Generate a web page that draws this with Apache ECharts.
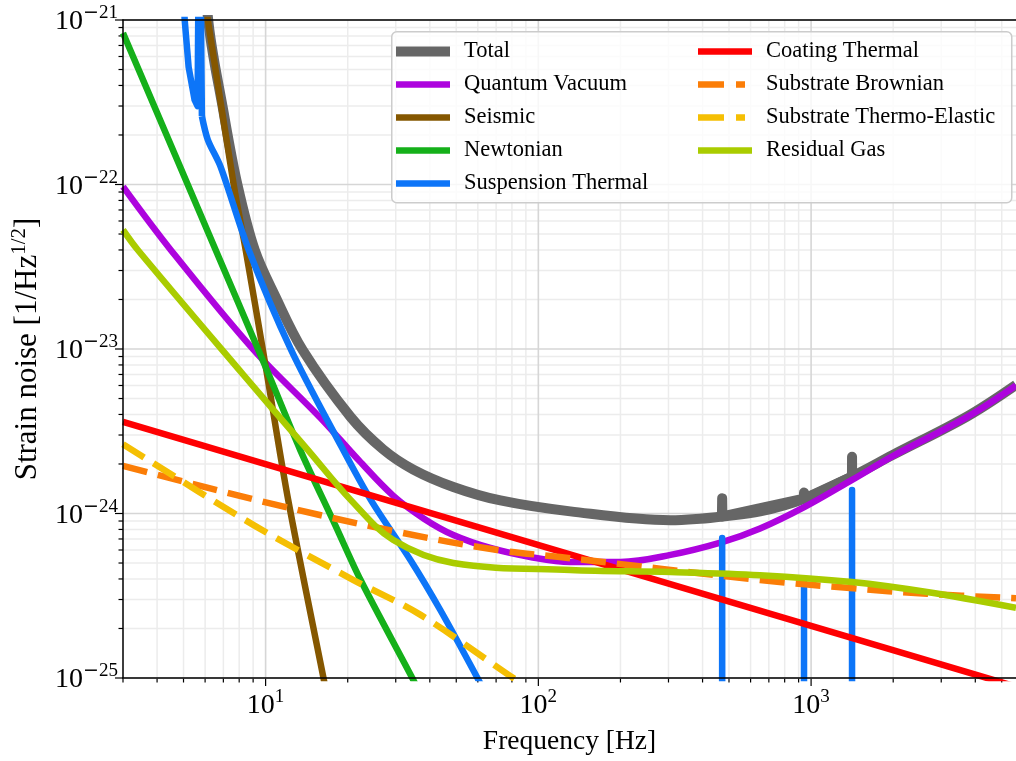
<!DOCTYPE html>
<html><head><meta charset="utf-8">
<script src="https://cdn.jsdelivr.net/npm/echarts@6/dist/echarts.min.js"></script>
<style>html,body{margin:0;padding:0;background:#fff}#c{width:1016px;height:761px}</style>
</head><body><div id="c"></div>
<script>
// ---- axis ranges and ticks ----
const X_MIN = 3, X_MAX = 5640;
const Y_MIN = 1e-25, Y_MAX = 1e-21;
const UNIT = 1e-25; // values are plotted in units of 1e-25 (log-axis precision)
const xMajorTicks = [10, 100, 1000];
const xMinorTicks = [3,4,5,6,7,8,9,20,30,40,50,60,70,80,90,200,300,400,500,600,700,800,900,2000,3000,4000,5000];
const yMajorTicks = [1e-25, 1e-24, 1e-23, 1e-22, 1e-21];
const yMinorTicks = [2e-25,3e-25,4e-25,5e-25,6e-25,7e-25,8e-25,9e-25,
  2e-24,3e-24,4e-24,5e-24,6e-24,7e-24,8e-24,9e-24,
  2e-23,3e-23,4e-23,5e-23,6e-23,7e-23,8e-23,9e-23,
  2e-22,3e-22,4e-22,5e-22,6e-22,7e-22,8e-22,9e-22];

// ---- series (frequency [Hz], strain noise [1/sqrt(Hz)]) ----
const totalF = [5.5, 6.14, 7.0, 7.89, 9.12, 10.88, 13.66, 20.5, 27, 34.8, 48.8, 72.6, 131, 305, 392, 472, 650, 942, 1413, 1995, 3726, 5640];
const totalH = [2e-20, 1.05e-21, 2.8e-22, 9.9e-23, 4.0e-23, 2.07e-23, 9.87e-24, 3.86e-24, 2.45e-24, 1.85e-24, 1.45e-24, 1.2e-24, 1.03e-24, 9.1e-25, 9.3e-25, 9.6e-25, 1.03e-24, 1.23e-24, 1.68e-24, 2.27e-24, 3.88e-24, 6.05e-24];
const totalPeakF = [471, 472, 473, 941, 942, 943, 1412, 1413, 1414];
const totalPeakH = [9.6e-25, 1.24e-24, 9.6e-25, 1.23e-24, 1.34e-24, 1.23e-24, 1.68e-24, 2.21e-24, 1.68e-24];

const quantumF = [3, 4.49, 9.04, 15.9, 22, 29.4, 38.2, 48.8, 66.7, 93.4, 131, 200, 305, 472, 650, 951, 1413, 2000, 3726, 5640];
const quantumH = [9.7e-23, 4.0e-23, 9.87e-24, 3.8e-24, 2.1e-24, 1.28e-24, 9.27e-25, 7.4e-25, 6.17e-25, 5.44e-25, 5.07e-25, 5.07e-25, 5.6e-25, 6.7e-25, 8.1e-25, 1.1e-24, 1.6e-24, 2.24e-24, 3.85e-24, 6.0e-24];

const seismicF = [5.0, 5.5, 6.14, 7.64, 8.45, 10, 12.1, 16.3, 18];
const seismicH = [8.6e-21, 3.2e-21, 1e-21, 9.93e-23, 4.0e-23, 7.89e-24, 1.21e-24, 1e-25, 4.4e-26];

const newtonF = [3, 6.56, 10, 13.4, 18, 22.3, 34.5, 40];
const newtonH = [8.34e-22, 4.0e-23, 7.78e-24, 2.43e-24, 8.5e-25, 3.94e-25, 1e-25, 6.2e-26];

const suspLowF = [4.89, 5.05, 5.22, 5.49, 5.63, 5.72, 5.84];
const suspLowH = [3.1e-21, 1e-21, 5.18e-22, 3.27e-22, 3.0e-22, 1e-20, 2.6e-22];
const suspF = [5.84, 6.14, 6.84, 8.67, 12.4, 18.4, 24.3, 34.0, 43.7, 59.8, 80, 200];
const suspH = [2.6e-22, 1.87e-22, 1.28e-22, 4.0e-23, 9.87e-24, 2.8e-24, 1.21e-24, 5.2e-25, 2.59e-25, 1e-25, 4e-26, 1e-27];
const suspPeakF = [471.6, 472, 472.4, 941.6, 942, 942.4, 1412.6, 1413, 1413.4];
const suspPeakH = [1e-27, 7.1e-25, 1e-27, 1e-27, 3.79e-25, 1e-27, 1e-27, 1.39e-24, 1e-27];

const coatingF = [3, 6000];
const coatingH = [3.6e-24, 8.6e-26];

const subBrownF = [3, 10.2, 30.5, 70.8, 120, 650, 1390, 2660, 5640];
const subBrownH = [1.95e-24, 1.16e-24, 7.73e-25, 6.0e-25, 5.44e-25, 3.94e-25, 3.52e-25, 3.25e-25, 3.05e-25];

const subTEF = [3, 9.04, 21.0, 37.0, 80.9, 100];
const subTEH = [2.64e-24, 8.5e-25, 3.94e-25, 2.42e-25, 1e-25, 8e-26];

const gasF = [3, 3.4, 8.3, 14.3, 20.5, 29.4, 48.8, 131, 305, 650, 1413, 2660, 5640];
const gasH = [5.3e-23, 4.0e-23, 6.95e-24, 2.43e-24, 1.21e-24, 6.9e-25, 5.0e-25, 4.54e-25, 4.41e-25, 4.22e-25, 3.83e-25, 3.33e-25, 2.67e-25];

const legendLeft = ['Total', 'Quantum Vacuum', 'Seismic', 'Newtonian', 'Suspension Thermal'];
const legendRight = ['Coating Thermal', 'Substrate Brownian', 'Substrate Thermo-Elastic', 'Residual Gas'];
const dashedNames = ['Substrate Brownian', 'Substrate Thermo-Elastic'];

// ---- helpers ----
const FONT = "'Liberation Serif', 'DejaVu Serif', serif";
const LW = 6.5, LW_TOTAL = 10;
function pairs(fs, hs) { return fs.map((f, i) => [f, hs[i] / UNIT]); }
const DASH = [25, 11];
function lineSeries(name, fs, hs, color, width, opts) {
  opts = opts || {};
  return Object.assign({
    name: name, type: 'line', data: pairs(fs, hs), symbol: 'none', showSymbol: false,
    animation: false, silent: true, z: 2, itemStyle: { color: color }
  }, opts, { lineStyle: Object.assign({ color: color, width: width, join: 'round' }, opts.lineStyle || {}) });
}
function vGrid(color, width, tickLen) {
  return function (params, api) {
    const f = api.value(0);
    const top = api.coord([f, Y_MAX / UNIT]);
    const bot = api.coord([f, Y_MIN / UNIT]);
    return { type: 'group', children: [
      { type: 'line', shape: { x1: top[0], y1: top[1], x2: bot[0], y2: bot[1] }, style: { stroke: color, lineWidth: width } },
      { type: 'line', shape: { x1: bot[0], y1: bot[1], x2: bot[0], y2: bot[1] + tickLen }, style: { stroke: '#000', lineWidth: 1.2 } }
    ] };
  };
}
function hGrid(color, width, tickLen) {
  return function (params, api) {
    const h = api.value(1);
    const l = api.coord([X_MIN, h]);
    const r = api.coord([X_MAX, h]);
    return { type: 'group', children: [
      { type: 'line', shape: { x1: l[0], y1: l[1], x2: r[0], y2: r[1] }, style: { stroke: color, lineWidth: width } },
      { type: 'line', shape: { x1: l[0], y1: l[1], x2: l[0] - tickLen, y2: l[1] }, style: { stroke: '#000', lineWidth: 1.2 } }
    ] };
  };
}
function gridSeries(data, render) {
  return { type: 'custom', data: data, renderItem: render, clip: false, silent: true, z: 1, animation: false };
}
const supRich = {
  b: { fontSize: 28, fontFamily: FONT, color: '#000', lineHeight: 32, verticalAlign: 'bottom' },
  m: { fontSize: 19, fontFamily: "'DejaVu Serif', serif", color: '#000', lineHeight: 12, verticalAlign: 'top' },
  s: { fontSize: 19, fontFamily: FONT, color: '#000', lineHeight: 12, verticalAlign: 'top' }
};
function legendIcon(name) {
  if (name === 'Total') return 'path://M0,0M54,10M0,0h54v10h-54z';
  if (dashedNames.indexOf(name) >= 0) return 'path://M0,0M54,10M0,1.75h26v6.5h-26zM38,1.75h9v6.5h-9z';
  return 'path://M0,0M54,10M0,1.75h54v6.5h-54z';
}
function legendData(names) { return names.map(n => ({ name: n, icon: legendIcon(n) })); }
function legendBlock(names, left) {
  return {
    data: legendData(names), orient: 'vertical', left: left, top: 40, itemWidth: 54, itemHeight: 10, itemGap: 10,
    selectedMode: false, z: 10, padding: 0,
    textStyle: { fontSize: 22.5, fontFamily: FONT, color: '#000', padding: [0, 0, 0, 9] }
  };
}

const chart = echarts.init(document.getElementById('c'), null, { renderer: 'canvas' });
chart.setOption({
  animation: false,
  backgroundColor: '#fff',
  grid: { left: 123, right: 0, top: 20, bottom: 83 },
  xAxis: [{
    type: 'log', logBase: 10, min: X_MIN, max: X_MAX, position: 'bottom', z: 5,
    axisLine: { show: true, onZero: false, lineStyle: { color: '#000', width: 1.5 } },
    axisTick: { show: false }, splitLine: { show: false },
    axisLabel: {
      margin: 10, showMinLabel: false, showMaxLabel: false, rich: supRich,
      formatter: function (v) {
        const e = Math.round(Math.log10(v));
        if (Math.abs(v - Math.pow(10, e)) > 1e-6 * v) return '';
        return '{b|10}{s|' + e + '}';
      }
    },
    name: 'Frequency [Hz]', nameLocation: 'middle', nameGap: 50,
    nameTextStyle: { fontSize: 27.5, fontFamily: FONT, color: '#000' }
  }, {
    type: 'log', logBase: 10, min: X_MIN, max: X_MAX, position: 'top', z: 5,
    axisLine: { show: true, onZero: false, lineStyle: { color: '#000', width: 1.5 } },
    axisTick: { show: false }, splitLine: { show: false }, axisLabel: { show: false }
  }],
  yAxis: {
    type: 'log', logBase: 10, min: Y_MIN / UNIT, max: Y_MAX / UNIT, z: 5,
    axisLine: { show: true, lineStyle: { color: '#000', width: 1.5 } },
    axisTick: { show: false }, splitLine: { show: false },
    axisLabel: {
      margin: 5, rich: supRich,
      formatter: function (v) {
        const e = Math.round(Math.log10(v * UNIT));
        return '{b|10}{m|\u2212}{s|' + (-e) + '}';
      }
    },
    name: '{a|Strain noise [1/Hz}{s|1/2}{a|]}', nameLocation: 'middle', nameRotate: 90, nameGap: 80,
    nameTextStyle: { rich: {
      a: { fontSize: 31, fontFamily: FONT, color: '#000', lineHeight: 34, verticalAlign: 'bottom' },
      s: { fontSize: 21, fontFamily: FONT, color: '#000', lineHeight: 14, verticalAlign: 'top' }
    } }
  },
  legend: [legendBlock(legendLeft, 396), legendBlock(legendRight, 698)],
  graphic: [{
    type: 'rect', left: 391, top: 31, z: 9, silent: true,
    shape: { width: 620, height: 171, r: 5 },
    style: { fill: 'rgba(255,255,255,0.8)', stroke: '#cccccc', lineWidth: 1.5 }
  }],
  series: [
    gridSeries(xMinorTicks.map(f => [f, 10]), vGrid('#ececec', 1.5, 4.5)),
    gridSeries(yMinorTicks.map(h => [10, h / UNIT]), hGrid('#ececec', 1.5, 4.5)),
    gridSeries(xMajorTicks.map(f => [f, 10]), vGrid('#d6d6d6', 1.6, 8)),
    gridSeries(yMajorTicks.map(h => [10, h / UNIT]), hGrid('#d6d6d6', 1.6, 8)),
    lineSeries('Total', totalF, totalH, '#666666', LW_TOTAL, { smooth: 0.35 }),
    lineSeries('Total', totalPeakF, totalPeakH, '#666666', LW_TOTAL, { lineStyle: { cap: 'round' } }),
    lineSeries('Quantum Vacuum', quantumF, quantumH, '#ad03de', LW, { smooth: 0.35 }),
    lineSeries('Seismic', seismicF, seismicH, '#855700', LW, { smooth: 0.3 }),
    lineSeries('Newtonian', newtonF, newtonH, '#15b01a', LW, { smooth: 0.3 }),
    lineSeries('Suspension Thermal', suspLowF, suspLowH, '#0d75f8', LW),
    lineSeries('Suspension Thermal', suspF, suspH, '#0d75f8', LW, { smooth: 0.3 }),
    lineSeries('Suspension Thermal', suspPeakF, suspPeakH, '#0d75f8', LW, { lineStyle: { cap: 'round' } }),
    lineSeries('Coating Thermal', coatingF, coatingH, '#fe0002', LW),
    lineSeries('Substrate Brownian', subBrownF, subBrownH, '#fb7d07', LW, { smooth: 0.35, lineStyle: { type: DASH } }),
    lineSeries('Substrate Thermo-Elastic', subTEF, subTEH, '#f5bf03', LW, { smooth: 0.3, lineStyle: { type: DASH } }),
    lineSeries('Residual Gas', gasF, gasH, '#aacc00', LW, { smooth: 0.35 })
  ]
});
</script></body></html>
